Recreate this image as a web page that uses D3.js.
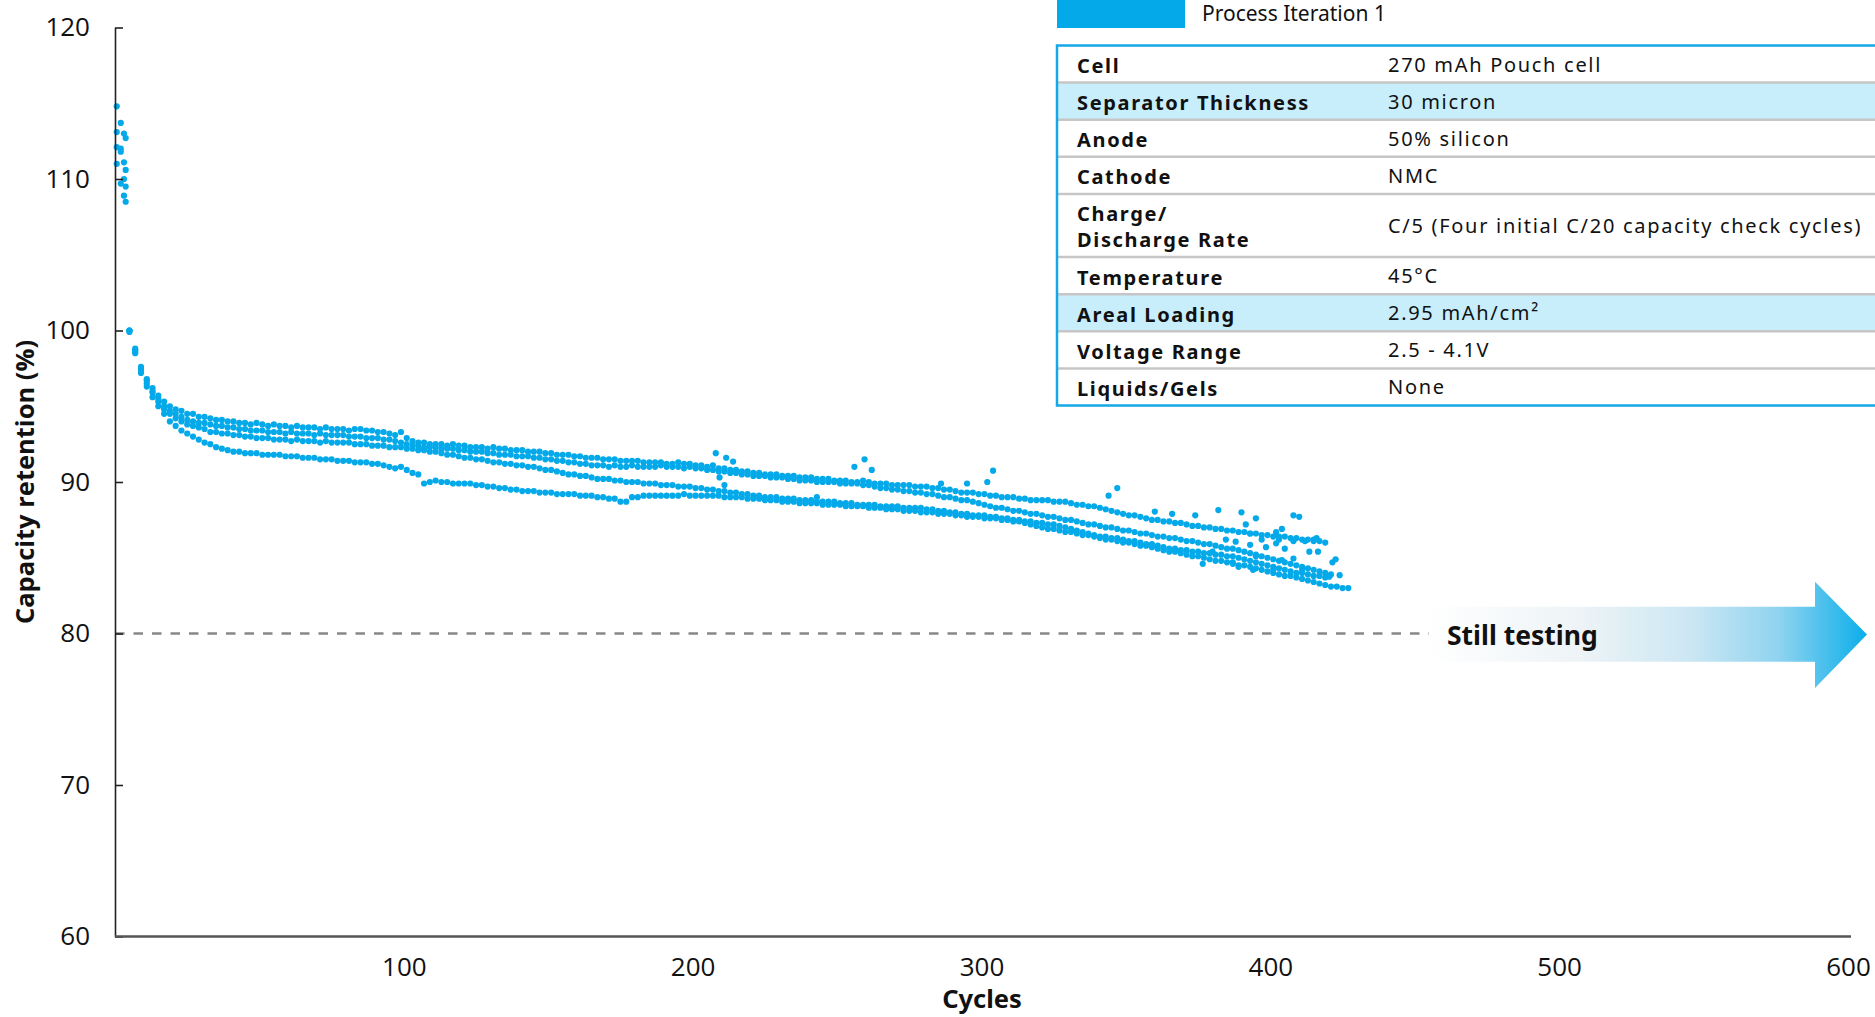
<!DOCTYPE html>
<html>
<head>
<meta charset="utf-8">
<script src="https://cdn.jsdelivr.net/npm/d3@7"></script>
<style>
  body { margin: 0; background: #fff; }
  svg { display: block; font-family: "Noto Sans", sans-serif; }
</style>
</head>
<body>
<svg width="1875" height="1017"></svg>
<script>
// --- data ---
var xTicks = [100, 200, 300, 400, 500, 600];
var yTicks = [60, 70, 80, 90, 100, 110, 120];
var endOfLifeLevel = 80;

// four initial C/20 capacity check cycles, one list per cell
var checkCycles = [0.6, 2.0, 3.1, 3.7];
var cell1Check = [114.8, 113.7, 113.0, 112.7];
var cell2Check = [113.1, 112.0, 111.1, 110.6];
var cell3Check = [112.1, 111.8, 110.0, 109.5];
var cell4Check = [111.0, 109.7, 108.9, 108.5];

// C/5 cycling, values sampled every 2nd cycle starting at cycle 5
var firstCycle = 5, cycleStep = 2;
var cell1 = [
  100.0, 98.8, 97.6, 96.8, 96.2, 95.7, 95.3, 95.0, 94.8, 94.7,
  94.5, 94.5, 94.3, 94.3, 94.2, 94.1, 94.1, 94.0, 94.0, 93.9,
  93.9, 93.8, 93.9, 93.8, 93.7, 93.8, 93.7, 93.7, 93.6, 93.7,
  93.6, 93.6, 93.6, 93.5, 93.6, 93.5, 93.5, 93.5, 93.4, 93.5,
  93.5, 93.4, 93.4, 93.3, 93.3, 93.2, 93.1, 93.3, 92.9, 92.7,
  92.6, 92.6, 92.5, 92.5, 92.5, 92.4, 92.5, 92.4, 92.4, 92.3,
  92.3, 92.3, 92.2, 92.3, 92.2, 92.2, 92.1, 92.1, 92.1, 92.0,
  92.0, 92.0, 91.9, 91.9, 91.8, 91.8, 91.8, 91.7, 91.7, 91.6,
  91.6, 91.6, 91.5, 91.5, 91.5, 91.4, 91.4, 91.4, 91.4, 91.3,
  91.3, 91.3, 91.3, 91.2, 91.2, 91.3, 91.2, 91.2, 91.1, 91.1,
  91.0, 91.1, 90.9, 90.9, 90.8, 90.8, 90.7, 90.7, 90.6, 90.6,
  90.5, 90.5, 90.5, 90.4, 90.4, 90.4, 90.3, 90.3, 90.3, 90.2,
  90.2, 90.2, 90.1, 90.1, 90.1, 90.0, 90.0, 90.1, 90.0, 89.9,
  89.9, 89.9, 89.8, 89.8, 89.8, 89.8, 89.7, 89.7, 89.7, 89.6,
  89.6, 89.5, 89.5, 89.4, 89.3, 89.3, 89.3, 89.2, 89.2, 89.1,
  89.1, 89.0, 89.0, 89.0, 88.9, 88.9, 88.8, 88.8, 88.8, 88.8,
  88.7, 88.7, 88.7, 88.6, 88.5, 88.5, 88.4, 88.4, 88.3, 88.2,
  88.1, 88.0, 87.9, 87.8, 87.8, 87.7, 87.6, 87.5, 87.5, 87.4,
  87.4, 87.3, 87.3, 87.2, 87.1, 87.1, 87.0, 87.0, 86.9, 86.9,
  86.8, 86.8, 86.7, 86.7, 86.6, 86.6, 86.5, 86.5, 86.4, 86.4,
  86.4, 86.3, 86.3, 86.2, 86.2, 86.1, 86.1, 86.0
];
var cell2 = [
  99.9, 98.7, 97.5, 96.7, 96.0, 95.5, 95.0, 94.7, 94.5, 94.3,
  94.1, 94.0, 93.9, 93.9, 93.8, 93.7, 93.7, 93.6, 93.6, 93.5,
  93.5, 93.4, 93.4, 93.4, 93.3, 93.3, 93.3, 93.2, 93.3, 93.2,
  93.2, 93.2, 93.1, 93.2, 93.1, 93.1, 93.1, 93.1, 93.0, 93.0,
  93.0, 92.9, 92.9, 92.9, 92.8, 92.8, 92.7, 92.6, 92.5, 92.4,
  92.4, 92.3, 92.3, 92.3, 92.2, 92.2, 92.2, 92.1, 92.1, 92.0,
  92.0, 92.0, 91.9, 91.9, 91.8, 91.8, 91.8, 91.7, 91.7, 91.7,
  91.6, 91.6, 91.5, 91.5, 91.4, 91.4, 91.3, 91.3, 91.2, 91.2,
  91.1, 91.1, 91.1, 91.0, 91.1, 91.0, 91.0, 91.1, 91.0, 91.0,
  91.0, 91.0, 91.1, 91.0, 91.0, 91.0, 90.9, 91.0, 90.9, 90.9,
  90.8, 90.8, 90.7, 90.7, 90.6, 90.6, 90.5, 90.5, 90.4, 90.4,
  90.4, 90.3, 90.3, 90.3, 90.2, 90.2, 90.1, 90.1, 90.1, 90.0,
  90.0, 90.0, 90.0, 89.9, 89.9, 89.9, 89.9, 89.8, 89.8, 89.7,
  89.6, 89.6, 89.5, 89.5, 89.4, 89.4, 89.3, 89.3, 89.2, 89.2,
  89.1, 89.0, 89.0, 88.9, 88.8, 88.8, 88.7, 88.6, 88.5, 88.4,
  88.3, 88.3, 88.2, 88.1, 88.1, 88.0, 87.9, 87.9, 87.8, 87.7,
  87.7, 87.6, 87.5, 87.5, 87.4, 87.3, 87.2, 87.2, 87.1, 87.0,
  87.0, 86.9, 86.8, 86.8, 86.7, 86.6, 86.6, 86.5, 86.4, 86.4,
  86.3, 86.3, 86.2, 86.1, 86.1, 86.0, 85.9, 85.9, 85.8, 85.7,
  85.6, 85.6, 85.5, 85.4, 85.3, 85.2, 85.1, 85.0, 84.9, 84.8,
  84.7, 84.6, 84.5, 84.4, 84.3, 84.2, 84.1, 84.0, 83.9
];
var cell3 = [
  100.0, 98.6, 97.4, 96.5, 95.9, 95.3, 94.8, 94.5, 94.2, 94.0,
  93.8, 93.7, 93.6, 93.5, 93.3, 93.3, 93.2, 93.2, 93.1, 93.1,
  93.0, 93.0, 92.9, 92.9, 92.9, 92.8, 92.8, 92.8, 92.7, 92.8,
  92.7, 92.7, 92.7, 92.6, 92.7, 92.6, 92.6, 92.6, 92.6, 92.5,
  92.5, 92.5, 92.4, 92.4, 92.4, 92.3, 92.3, 92.3, 92.2, 92.2,
  92.1, 92.1, 92.0, 92.0, 91.9, 91.8, 91.8, 91.7, 91.6, 91.6,
  91.5, 91.5, 91.4, 91.3, 91.3, 91.2, 91.2, 91.1, 91.1, 91.0,
  91.0, 90.9, 90.8, 90.8, 90.7, 90.6, 90.5, 90.5, 90.4, 90.4,
  90.3, 90.2, 90.2, 90.2, 90.1, 90.1, 90.0, 90.0, 90.0, 89.9,
  89.9, 89.9, 89.8, 89.8, 89.8, 89.7, 89.7, 89.7, 89.6, 89.6,
  89.5, 89.5, 89.4, 89.4, 89.3, 89.3, 89.2, 89.2, 89.1, 89.1,
  89.0, 89.0, 89.0, 88.9, 88.9, 88.9, 88.8, 88.8, 88.8, 88.7,
  88.7, 88.7, 88.7, 88.6, 88.6, 88.6, 88.5, 88.5, 88.5, 88.5,
  88.4, 88.4, 88.4, 88.4, 88.3, 88.3, 88.3, 88.3, 88.2, 88.2,
  88.1, 88.1, 88.0, 88.0, 87.9, 87.9, 87.8, 87.8, 87.8, 87.7,
  87.7, 87.6, 87.6, 87.5, 87.5, 87.4, 87.4, 87.3, 87.3, 87.2,
  87.2, 87.1, 87.0, 86.9, 86.8, 86.7, 86.6, 86.5, 86.4, 86.4,
  86.3, 86.3, 86.2, 86.1, 86.1, 86.0, 85.9, 85.9, 85.8, 85.7,
  85.6, 85.6, 85.5, 85.5, 85.4, 85.4, 85.3, 85.3, 85.2, 85.2,
  85.1, 85.1, 85.0, 84.9, 84.8, 84.7, 84.6, 84.5, 84.4, 84.3,
  84.2, 84.1, 84.0, 84.0, 83.9, 83.8, 83.8, 83.7
];
var cell4 = [
  100.0, 98.5, 97.2, 96.3, 95.6, 95.0, 94.5, 94.0, 93.7, 93.4,
  93.2, 93.0, 92.8, 92.6, 92.5, 92.3, 92.2, 92.1, 92.0, 92.0,
  91.9, 91.9, 91.9, 91.8, 91.8, 91.8, 91.8, 91.7, 91.7, 91.7,
  91.6, 91.6, 91.6, 91.5, 91.5, 91.5, 91.4, 91.4, 91.4, 91.3,
  91.3, 91.3, 91.2, 91.2, 91.1, 91.0, 90.9, 91.0, 90.8, 90.6,
  90.5, 89.9, 90.0, 90.1, 90.0, 90.0, 89.9, 89.9, 89.9, 89.9,
  89.8, 89.8, 89.7, 89.7, 89.6, 89.6, 89.5, 89.5, 89.4, 89.4,
  89.4, 89.3, 89.3, 89.3, 89.2, 89.2, 89.2, 89.2, 89.1, 89.1,
  89.1, 89.0, 89.0, 88.9, 88.9, 88.7, 88.7, 89.0, 89.0, 89.1,
  89.1, 89.1, 89.1, 89.1, 89.1, 89.1, 89.2, 89.1, 89.1, 89.1,
  89.1, 89.1, 89.1, 89.0, 89.0, 89.0, 89.0, 88.9, 88.9, 88.9,
  88.8, 88.8, 88.8, 88.7, 88.7, 88.7, 88.6, 88.6, 88.6, 88.6,
  88.5, 88.5, 88.5, 88.5, 88.4, 88.4, 88.4, 88.4, 88.3, 88.3,
  88.3, 88.2, 88.2, 88.2, 88.1, 88.1, 88.1, 88.0, 88.0, 88.0,
  87.9, 87.9, 87.9, 87.8, 87.8, 87.7, 87.7, 87.7, 87.6, 87.6,
  87.6, 87.5, 87.5, 87.4, 87.4, 87.3, 87.2, 87.1, 87.0, 86.9,
  86.9, 86.8, 86.7, 86.7, 86.6, 86.5, 86.5, 86.4, 86.3, 86.2,
  86.2, 86.1, 86.0, 86.0, 85.9, 85.8, 85.8, 85.7, 85.6, 85.5,
  85.4, 85.4, 85.3, 85.2, 85.1, 85.1, 85.0, 84.9, 84.8, 84.8,
  84.7, 84.6, 84.5, 84.5, 84.4, 84.3, 84.2, 84.1, 84.0, 83.9,
  83.8, 83.8, 83.7, 83.6, 83.5, 83.4, 83.3, 83.2, 83.1, 83.1,
  83.0, 83.0
];
// stray points off the main bands [cycle, retention]
var strayPoints = [
  [208, 91.9], [211.6, 91.6], [214, 91.35], [209.3, 90.3], [211, 89.8],
  [243, 89.0], [256, 91.0], [259.5, 91.5], [262, 90.8], [286, 89.9],
  [295, 89.9], [302, 90.0], [304, 90.75], [344, 89.1], [347, 89.6],
  [360, 88.05], [366, 87.9], [374, 87.8], [382, 88.15], [390, 88.0],
  [395, 87.6], [408, 87.8], [410, 87.7], [391.5, 87.2], [393, 86.6],
  [402, 86.7], [404, 86.9], [403, 86.2], [408, 86.1], [405, 85.6],
  [412, 86.1], [415, 86.2], [416, 86.3], [413.5, 85.4], [416.5, 85.4],
  [404, 84.85], [408, 84.95], [421.5, 84.7], [422.6, 84.9], [424, 83.85],
  [420.4, 83.75], [411, 84.2], [401, 84.2], [395, 85.1], [394, 84.2],
  [389, 84.4], [387, 84.7], [380, 85.4], [376.6, 84.6], [384.6, 86.2],
  [388, 86.06], [393, 85.85], [398.5, 85.7], [397, 86.2], [402, 85.95]
];

var legendLabel = "Process Iteration 1";
var tableLabels = ["Cell", "Separator Thickness", "Anode", "Cathode", "Charge/\nDischarge Rate",
  "Temperature", "Areal Loading", "Voltage Range", "Liquids/Gels"];
var tableValues = ["270 mAh Pouch cell", "30 micron", "50% silicon", "NMC",
  "C/5 (Four initial C/20 capacity check cycles)", "45°C", "2.95 mAh/cm²", "2.5 - 4.1V", "None"];
var highlightedRows = ["Separator Thickness", "Areal Loading"];

// --- drawing ---
var blue = "#04a9e9";
var svg = d3.select("svg");

var x = d3.scaleLinear().domain([0, 600]).range([115, 1848]);
var y = d3.scaleLinear().domain([60, 120]).range([936.5, 27.5]);

// build point list
var points = [];
[cell1Check, cell2Check, cell3Check, cell4Check].forEach(function(vals) {
  vals.forEach(function(v, i) { points.push([checkCycles[i], v]); });
});
[cell1, cell2, cell3, cell4].forEach(function(vals) {
  vals.forEach(function(v, i) { points.push([firstCycle + i * cycleStep, v]); });
});
strayPoints.forEach(function(p) { points.push(p); });

// 80% line
svg.append("line")
  .attr("x1", x(0)).attr("x2", 1432)
  .attr("y1", y(endOfLifeLevel)).attr("y2", y(endOfLifeLevel))
  .attr("stroke", "#888").attr("stroke-width", 2.7)
  .attr("stroke-dasharray", "9.5,9");

// arrow "Still testing"
var defs = svg.append("defs");
var grad = defs.append("linearGradient").attr("id", "arrowGrad")
  .attr("gradientUnits", "userSpaceOnUse")
  .attr("x1", 1429).attr("x2", 1867).attr("y1", 0).attr("y2", 0);
[["0%", "#ffffff"], ["35%", "#edf3f6"], ["60%", "#cbe7f3"], ["80%", "#8fd3f0"], ["100%", "#0aaeea"]]
  .forEach(function(s) { grad.append("stop").attr("offset", s[0]).attr("stop-color", s[1]); });

svg.append("path")
  .attr("d", "M1429,606.7 L1815,606.7 L1815,581.7 L1867,634.5 L1815,688 L1815,661.7 L1429,661.7 Z")
  .attr("fill", "url(#arrowGrad)");

svg.append("text")
  .attr("x", 1447).attr("y", 644.5)
  .attr("font-size", 26.5).attr("font-weight", 700)
  .attr("fill", "#111")
  .text("Still testing");

// dots
svg.append("g").selectAll("circle")
  .data(points)
  .enter().append("circle")
  .attr("cx", function(d) { return x(d[0]); })
  .attr("cy", function(d) { return y(d[1]); })
  .attr("r", 3.1)
  .attr("fill", blue);

// axes
var yAxis = d3.axisLeft(y).tickValues(yTicks).tickSizeInner(-8).tickSizeOuter(0).tickPadding(25);
var gy = svg.append("g").attr("transform", "translate(" + x(0) + ",0)").call(yAxis);
gy.select(".domain").attr("stroke", "#222").attr("stroke-width", 1.6);
gy.selectAll(".tick line").attr("stroke", "#222").attr("stroke-width", 1.6);
gy.selectAll(".tick text").attr("font-size", 26).attr("font-family", "Open Sans").attr("fill", "#111");

var xAxis = d3.axisBottom(x).tickValues(xTicks).tickSize(0).tickPadding(21);
var gx = svg.append("g").attr("transform", "translate(0," + y(60) + ")").call(xAxis);
gx.select(".domain").attr("stroke", "#555").attr("stroke-width", 2.5).attr("d", "M" + x(0) + ",0H1851");
gx.selectAll(".tick text").attr("font-size", 26).attr("font-family", "Open Sans").attr("fill", "#111");

svg.append("text")
  .attr("x", 982).attr("y", 1008)
  .attr("text-anchor", "middle")
  .attr("font-size", 25.5).attr("font-weight", 700).attr("fill", "#111")
  .text("Cycles");

svg.append("text")
  .attr("transform", "translate(34,482) rotate(-90)")
  .attr("text-anchor", "middle")
  .attr("font-family", "Open Sans")
  .attr("font-size", 25.5).attr("font-weight", 700).attr("fill", "#111")
  .text("Capacity retention (%)");

// legend
svg.append("rect").attr("x", 1057).attr("y", 0).attr("width", 128).attr("height", 28).attr("fill", blue);
svg.append("text").attr("x", 1202).attr("y", 21)
  .attr("font-size", 21).attr("fill", "#111").text(legendLabel);

// spec table
var tableTop = 45.5, tableLeft = 1057;
var rows = [];
var yy = tableTop;
tableLabels.forEach(function(lab, i) {
  var lines = lab.split("\n");
  var h = lines.length > 1 ? 63.2 : 37.1;
  rows.push({ label: lines, value: tableValues[i], top: yy, h: h, hi: highlightedRows.indexOf(lab.replace("\n", " ")) >= 0 });
  yy += h;
});
var tableBottom = yy;

var tg = svg.append("g");
tg.selectAll("rect.row").data(rows).enter().append("rect")
  .attr("x", tableLeft).attr("y", function(d) { return d.top; })
  .attr("width", 1875 - tableLeft).attr("height", function(d) { return d.h; })
  .attr("fill", function(d) { return d.hi ? "#c8eefc" : "#fff"; });

tg.selectAll("line.sep").data(rows.slice(1)).enter().append("line")
  .attr("x1", tableLeft).attr("x2", 1875)
  .attr("y1", function(d) { return d.top; }).attr("y2", function(d) { return d.top; })
  .attr("stroke", "#c6c6c6").attr("stroke-width", 2.5);

tg.append("path")
  .attr("d", "M1880," + tableTop + "H" + tableLeft + "V" + tableBottom + "H1880")
  .attr("fill", "none").attr("stroke", "#14a8e6").attr("stroke-width", 2.5);

rows.forEach(function(r) {
  var t = tg.append("text").attr("x", tableLeft + 20)
    .attr("font-size", 20).attr("font-weight", 700).attr("letter-spacing", 1.65).attr("fill", "#111");
  if (r.label.length > 1) {
    r.label.forEach(function(l, k) {
      t.append("tspan").attr("x", tableLeft + 20).attr("y", r.top + 27 + k * 26).text(l);
    });
  } else {
    t.attr("y", r.top + 27.5).text(r.label[0]);
  }
  tg.append("text").attr("x", 1388).attr("y", r.top + r.h / 2 + 7.5)
    .attr("font-size", 20).attr("letter-spacing", 1.7).attr("fill", "#111")
    .text(r.value);
});
</script>
</body>
</html>
